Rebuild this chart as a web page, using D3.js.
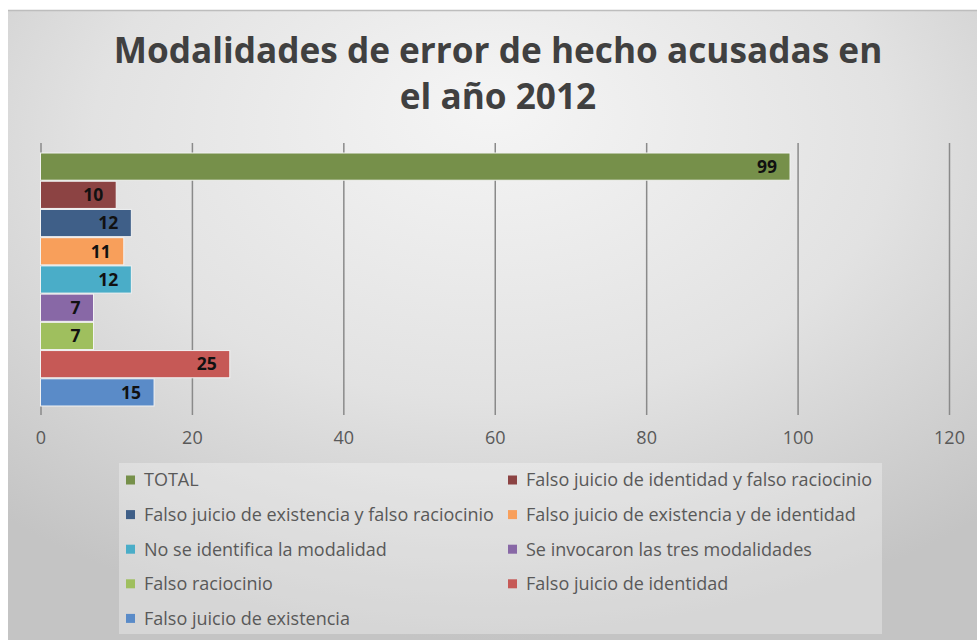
<!DOCTYPE html>
<html>
<head>
<meta charset="utf-8">
<script src="https://cdn.jsdelivr.net/npm/d3@7"></script>
<style>
  html, body { margin: 0; padding: 0; background: #ffffff; }
  svg { display: block; }
  text { font-family: "Open Sans", "DejaVu Sans", sans-serif; }
</style>
</head>
<body>
<svg id="chart" width="977" height="640"></svg>
<script>
// Series (one bar per modality), top to bottom
const categories = [
  "TOTAL",
  "Falso juicio de identidad y falso raciocinio",
  "Falso juicio de existencia y falso raciocinio",
  "Falso juicio de existencia y de identidad",
  "No se identifica la modalidad",
  "Se invocaron las tres modalidades",
  "Falso raciocinio",
  "Falso juicio de identidad",
  "Falso juicio de existencia"
];
const values = [99, 10, 12, 11, 12, 7, 7, 25, 15];
const colors = ["#76904a", "#8c4343", "#3f5f88", "#f89f5b", "#4aadc8", "#8868a6", "#9fbf5e", "#c65956", "#5a8bc8"];
const xTicks = [0, 20, 40, 60, 80, 100, 120];
const titleLines = ["Modalidades de error de hecho acusadas en", "el año 2012"];

const svg = d3.select("#chart");

// Background panel with soft radial shading
const defs = svg.append("defs");
const grad = defs.append("radialGradient")
  .attr("id", "bg").attr("cx", "50%").attr("cy", "25%").attr("r", "75%")
  .attr("fx", "50%").attr("fy", "15%");
grad.append("stop").attr("offset", "0%").attr("stop-color", "#f5f5f5");
grad.append("stop").attr("offset", "55%").attr("stop-color", "#e2e2e2");
grad.append("stop").attr("offset", "100%").attr("stop-color", "#c4c4c4");

svg.append("rect").attr("x", 8).attr("y", 10).attr("width", 969).attr("height", 630)
  .attr("fill", "url(#bg)");
svg.append("line").attr("x1", 8).attr("x2", 977).attr("y1", 10.5).attr("y2", 10.5)
  .attr("stroke", "#bdbdbd").attr("stroke-width", 1.5);

// Title
const title = svg.append("g");
const titleY = [63, 109];
titleLines.forEach((t, i) => {
  title.append("text")
    .attr("x", 498).attr("y", titleY[i])
    .attr("text-anchor", "middle")
    .attr("font-size", 35.2).attr("font-weight", 700)
    .attr("fill", "#404040")
    .text(t);
});

// Scales
const x = d3.scaleLinear().domain([0, 120]).range([40.5, 949]);
const y = d3.scaleBand().domain(categories).range([152.5, 406.5]).padding(0);

// Vertical gridlines
const grid = svg.append("g").attr("transform", "translate(0,415)")
  .call(d3.axisBottom(x).tickValues(xTicks).tickSize(-272).tickFormat(""));
grid.select(".domain").remove();
grid.selectAll(".tick line").attr("stroke", "#8a8a8a").attr("stroke-width", 1.5);

// Tick labels
const axis = svg.append("g").attr("transform", "translate(0,431)")
  .call(d3.axisBottom(x).tickValues(xTicks).tickSize(0).tickPadding(0));
axis.select(".domain").remove();
axis.selectAll(".tick text")
  .attr("font-family", "Open Sans, sans-serif")
  .attr("font-size", 18).attr("fill", "#595959")
  .attr("dy", "0.71em");

// Bars
const bars = svg.append("g");
bars.selectAll("rect").data(values).join("rect")
  .attr("x", x(0))
  .attr("y", (d, i) => y(categories[i]) + 0.5)
  .attr("width", d => x(d) - x(0))
  .attr("height", y.bandwidth() - 1)
  .attr("fill", (d, i) => colors[i])
  .attr("stroke", "#f2f2f2").attr("stroke-width", 1);

// Value labels inside bar ends
bars.selectAll("text").data(values).join("text")
  .attr("x", d => x(d) - 13)
  .attr("y", (d, i) => y(categories[i]) + y.bandwidth() / 2)
  .attr("dy", "0.36em")
  .attr("text-anchor", "end")
  .attr("font-size", 17.5).attr("font-weight", 700)
  .attr("fill", "#111111")
  .text(d => d);

// Legend
const legend = svg.append("g");
legend.append("rect").attr("x", 119).attr("y", 463).attr("width", 763).attr("height", 171)
  .attr("fill", "#ffffff").attr("fill-opacity", 0.3);
const colX = [126, 508];
const rowY0 = 480, rowStep = 34.6;
categories.forEach((c, i) => {
  const col = i % 2, row = Math.floor(i / 2);
  const cy = rowY0 + row * rowStep;
  legend.append("rect")
    .attr("x", colX[col]).attr("y", cy - 4.5).attr("width", 9).attr("height", 9)
    .attr("fill", colors[i]);
  legend.append("text")
    .attr("x", colX[col] + 18).attr("y", cy)
    .attr("dy", "0.35em")
    .attr("font-size", 18).attr("fill", "#595959")
    .text(c);
});
</script>
</body>
</html>
